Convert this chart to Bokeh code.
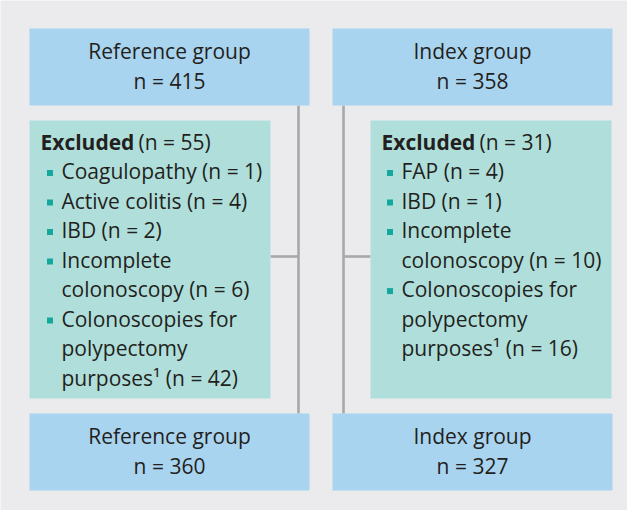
from bokeh.plotting import figure
from bokeh.models import Range1d
from bokeh.core.properties import value
from bokeh.embed import file_html
from bokeh.resources import INLINE

# ---- data ----
group_names = ["Reference group", "Index group"]
n_initial = [415, 358]
n_excluded = [55, 31]
n_final = [360, 327]
ref_reason_lines = [["Coagulopathy"], ["Active colitis"], ["IBD"],
                    ["Incomplete", "colonoscopy"],
                    ["Colonoscopies for", "polypectomy", "purposes\u00b9"]]
ref_reason_n = [1, 4, 2, 6, 42]
idx_reason_lines = [["FAP"], ["IBD"], ["Incomplete", "colonoscopy"],
                    ["Colonoscopies for", "polypectomy", "purposes\u00b9"]]
idx_reason_n = [4, 1, 10, 16]

# ---- style / layout ----
FONT = value("Open Sans")
FS = "21px"
TXT = "#231f20"
BLUE = "#a9d4ef"
TEAL = "#b0dfdb"
BG = "#ebebed"
LINE = "#a8a8aa"
BULLET = "#12a99c"
DY = -7.5   # baseline correction for rendered text

cols = [
    dict(bl=37, br=317, el=37, er=278, vx=306, tx=48, ix=69, bx=57.5),
    dict(bl=340, br=620, el=378, er=619, vx=351, tx=389, ix=409, bx=397.5),
]
TOP_T, TOP_B = 36, 113
EX_T, EX_B = 128, 406
BOT_T, BOT_B = 421, 498
LH = 29.5
EX_BASE = 156.5
CONN_Y = 264

p = figure(width=627, height=510, x_range=Range1d(8, 635), y_range=Range1d(518, 8),
           output_backend="svg", toolbar_location=None,
           x_axis_location=None, y_axis_location=None, min_border=0)
p.grid.visible = False
p.outline_line_color = None
p.background_fill_color = BG
p.border_fill_color = "white"

reasons = [(ref_reason_lines, ref_reason_n), (idx_reason_lines, idx_reason_n)]

for i, c in enumerate(cols):
    cx = (c["bl"] + c["br"]) / 2
    # connector lines
    p.segment(x0=[c["vx"]], y0=[TOP_B], x1=[c["vx"]], y1=[BOT_T], line_color=LINE, line_width=2.6)
    hx0 = c["er"] if i == 0 else c["vx"]
    hx1 = c["vx"] if i == 0 else c["el"]
    p.segment(x0=[hx0], y0=[CONN_Y], x1=[hx1], y1=[CONN_Y], line_color=LINE, line_width=2.6)
    # boxes
    p.quad(left=[c["bl"]], right=[c["br"]], top=[TOP_T], bottom=[TOP_B], fill_color=BLUE, line_color=None)
    p.quad(left=[c["el"]], right=[c["er"]], top=[EX_T], bottom=[EX_B], fill_color=TEAL, line_color=None)
    p.quad(left=[c["bl"]], right=[c["br"]], top=[BOT_T], bottom=[BOT_B], fill_color=BLUE, line_color=None)
    # top / bottom box text
    for top, n in ((TOP_T, n_initial[i]), (BOT_T, n_final[i])):
        p.text(x=[cx, cx], y=[top + 29.5 + DY, top + 59.5 + DY], text=[group_names[i], f"n = {n}"],
               text_align="center", text_baseline="alphabetic", text_font=FONT,
               text_font_size=FS, text_color=TXT)
    # excluded header
    p.text(x=[c["tx"]], y=[EX_BASE + DY], text=["Excluded"], text_font=FONT, text_font_style="bold",
           text_font_size=FS, text_color=TXT, text_baseline="alphabetic")
    p.text(x=[c["tx"] + 98], y=[EX_BASE + DY], text=[f"(n = {n_excluded[i]})"], text_font=FONT,
           text_font_size=FS, text_color=TXT, text_baseline="alphabetic")
    # reasons
    lines_list, counts = reasons[i]
    xs, ys, ts, bxs, bys = [], [], [], [], []
    k = 1
    for lines, n in zip(lines_list, counts):
        bxs.append(c["bx"]); bys.append(EX_BASE + k * LH - 5.4)
        for j, ln in enumerate(lines):
            t = ln + (f" (n = {n})" if j == len(lines) - 1 else "")
            xs.append(c["ix"]); ys.append(EX_BASE + k * LH + DY); ts.append(t)
            k += 1
    p.text(x=xs, y=ys, text=ts, text_font=FONT, text_font_size=FS, text_color=TXT,
           text_baseline="alphabetic")
    p.scatter(x=bxs, y=bys, marker="square", size=6, fill_color=BULLET, line_color=None)

open("out.html", "w").write(file_html(p, INLINE))
